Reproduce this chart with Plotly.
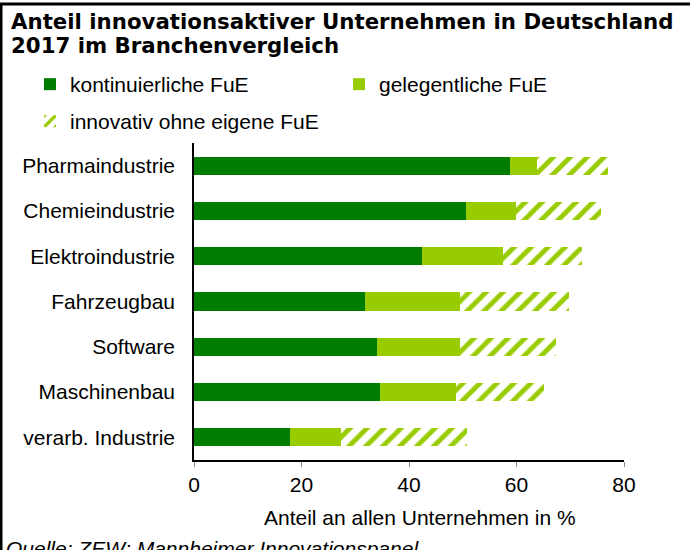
import plotly.graph_objects as go

categories = ["Pharmaindustrie", "Chemieindustrie", "Elektroindustrie", "Fahrzeugbau",
              "Software", "Maschinenbau", "verarb. Industrie"]
kontinuierlich = [58.7, 50.6, 42.4, 31.9, 34.0, 34.6, 17.9]
gelegentlich = [5.2, 9.3, 15.0, 17.6, 15.5, 14.1, 9.5]
ohne_fue = [13.2, 15.9, 14.7, 20.3, 17.8, 16.5, 23.4]
x_ticks = [0, 20, 40, 60, 80]
title_lines = ["Anteil innovationsaktiver Unternehmen in Deutschland", "2017 im Branchenvergleich"]
x_title = "Anteil an allen Unternehmen in %"
source = "Quelle: ZEW; Mannheimer Innovationspanel"

DARK = "#007d00"
LIGHT = "#99cc00"
W, H = 695, 550
L, R, T, B = 194, 71, 143, 90
PW, PH = W - L - R, H - T - B
ARIAL = "Liberation Sans, Arial, sans-serif"

def px(x):
    return (x - L) / PW

def py(y):
    return (H - B - y) / PH

fig = go.Figure()
fig.add_trace(go.Bar(y=categories, x=kontinuierlich, orientation="h", name="kontinuierliche FuE",
                     marker=dict(color=DARK, line=dict(width=0)), legend="legend"))
fig.add_trace(go.Bar(y=categories, x=gelegentlich, orientation="h", name="gelegentliche FuE",
                     marker=dict(color=LIGHT, line=dict(width=0)), legend="legend"))
fig.add_trace(go.Bar(y=categories, x=ohne_fue, orientation="h", name="innovativ ohne eigene FuE",
                     marker=dict(color="white", line=dict(width=0),
                                 pattern=dict(shape="/", fgcolor=LIGHT, bgcolor="white",
                                              size=12, solidity=0.4, fillmode="replace")),
                     legend="legend2"))

title_font = dict(family="DejaVu Sans, Verdana, sans-serif", size=21.3, color="black", weight="bold")

fig.update_layout(
    width=W, height=H,
    margin=dict(l=L, r=R, t=T, b=B, autoexpand=False),
    barmode="stack", bargap=0.6,
    plot_bgcolor="white", paper_bgcolor="white",
    font=dict(family=ARIAL, size=21, color="black"),
    legend=dict(orientation="h", x=px(30), xanchor="left", y=py(64), yanchor="top",
                traceorder="normal", font=dict(family=ARIAL, size=21),
                entrywidth=264, entrywidthmode="pixels", bgcolor="rgba(0,0,0,0)"),
    legend2=dict(orientation="h", x=px(30), xanchor="left", y=py(101), yanchor="top",
                 font=dict(family=ARIAL, size=21), bgcolor="rgba(0,0,0,0)"),
    xaxis=dict(range=[0, 80], tickvals=x_ticks, showgrid=False, zeroline=False,
               showline=True, linecolor="black", linewidth=1.5,
               ticks="outside", ticklen=5, tickcolor="#888888", tickwidth=1,
               tickfont=dict(size=21)),
    yaxis=dict(autorange="reversed", showgrid=False, zeroline=False,
               showline=True, linecolor="black", linewidth=1.5, ticks="",
               ticklabelstandoff=13, tickfont=dict(size=21)),
    shapes=[
        dict(type="line", xref="paper", yref="paper", x0=px(1), x1=px(1), y0=py(4), y1=py(552),
             line=dict(color="black", width=3)),
        dict(type="line", xref="paper", yref="paper", x0=px(0), x1=px(690), y0=py(4), y1=py(4),
             line=dict(color="black", width=3)),
    ],
    annotations=[
        dict(text=title_lines[0], xref="paper", yref="paper", x=px(9), y=py(22),
             xanchor="left", yanchor="middle", showarrow=False, font=title_font),
        dict(text=title_lines[1], xref="paper", yref="paper", x=px(9), y=py(46),
             xanchor="left", yanchor="middle", showarrow=False, font=title_font),
        dict(text=x_title, xref="paper", yref="paper", x=px(420), y=py(517),
             xanchor="center", yanchor="middle", showarrow=False,
             font=dict(family=ARIAL, size=21, color="black")),
        dict(text="<i>" + source + "</i>", xref="paper", yref="paper",
             x=px(4), y=py(535), xanchor="left", yanchor="top", showarrow=False,
             font=dict(family=ARIAL, size=21, color="black")),
    ],
)

fig.write_html("out.html", config={"displayModeBar": False},
               post_script="document.body.style.margin='0';document.body.style.overflow='hidden';")
